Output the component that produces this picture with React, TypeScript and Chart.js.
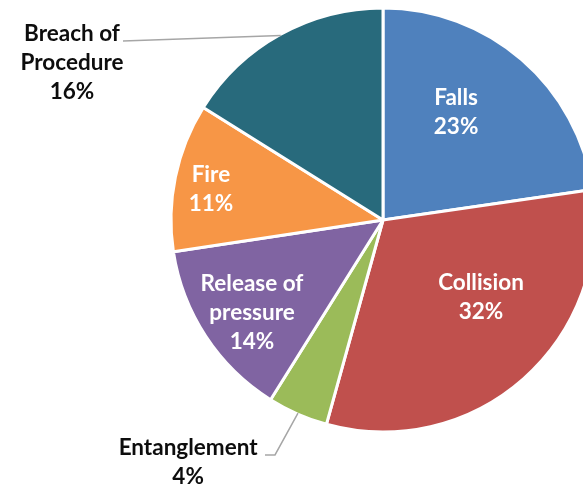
import React, { useEffect, useRef } from "react";
import { Chart, registerables } from "chart.js";

Chart.register(...registerables);

const categories = ["Falls", "Collision", "Entanglement", "Release of pressure", "Fire", "Breach of Procedure"];
const values = [22.7, 31.6, 4.6, 13.7, 11.3, 16.1];
// percentages printed on the chart
const percentLabels = ["23%", "32%", "4%", "14%", "11%", "16%"];
const labelLines = [["Falls"], ["Collision"], ["Entanglement"], ["Release of", "pressure"], ["Fire"], ["Breach of", "Procedure"]];
const colors = ["#4F81BD", "#C0504D", "#9BBB59", "#8064A2", "#F79646", "#286A7C"];

type Placement = { fx: number; fy: number; inside: boolean; leader?: [number, number][] };

const placements: Placement[] = [
  { fx: 0.343, fy: -0.507, inside: true },
  { fx: 0.46, fy: 0.362, inside: true },
  { fx: -0.915, fy: 1.136, inside: false, leader: [[-0.507, 1.103], [-0.554, 1.103]] },
  { fx: -0.615, fy: 0.437, inside: true },
  { fx: -0.808, fy: -0.146, inside: true },
  { fx: -1.46, fy: -0.737, inside: false, leader: [[-1.2207, -0.8404]] },
];

const FONT = "bold 22.5px Lato, 'Open Sans', sans-serif";
const LINE_H = 29;

const labelPlugin = {
  id: "pieLabels",
  afterDatasetsDraw(chart: any) {
    const ctx = chart.ctx as CanvasRenderingContext2D;
    const meta = chart.getDatasetMeta(0);
    meta.data.forEach((arc: any, i: number) => {
      const { x, y, outerRadius, startAngle, endAngle } = arc.getProps(
        ["x", "y", "outerRadius", "startAngle", "endAngle"],
        true
      );
      const p = placements[i];
      const R = 213;
      ctx.save();
      if (p.leader) {
        const mid = (startAngle + endAngle) / 2;
        ctx.beginPath();
        ctx.moveTo(x + Math.cos(mid) * (outerRadius - 1), y + Math.sin(mid) * (outerRadius - 1));
        p.leader.forEach(([lx, ly]) => ctx.lineTo(x + lx * R, y + ly * R));
        ctx.strokeStyle = "#A6A6A6";
        ctx.lineWidth = 1.5;
        ctx.stroke();
      }
      const lines = [...labelLines[i], percentLabels[i]];
      const cx = x + p.fx * R;
      const cy = y + p.fy * R;
      ctx.font = FONT;
      ctx.fillStyle = p.inside ? "#FFFFFF" : "#0D0D0D";
      ctx.textAlign = "center";
      ctx.textBaseline = "middle";
      lines.forEach((t, k) => {
        ctx.fillText(t, cx, cy + (k - (lines.length - 1) / 2) * LINE_H);
      });
      ctx.restore();
    });
  },
};

export default function App() {
  const ref = useRef<HTMLCanvasElement | null>(null);
  useEffect(() => {
    if (!ref.current) return;
    const chart = new Chart(ref.current, {
      type: "pie",
      data: {
        labels: categories,
        datasets: [
          {
            data: values,
            backgroundColor: colors,
            borderColor: "#FFFFFF",
            borderWidth: 3,
            radius: 212,
            hoverOffset: 0,
          } as any,
        ],
      },
      options: {
        responsive: false,
        animation: false,
        layout: { padding: { top: 7, bottom: 54, left: 0, right: 0 } },
        plugins: {
          legend: { display: false },
          tooltip: { enabled: false },
        },
      },
      plugins: [labelPlugin],
    });
    return () => chart.destroy();
  }, []);
  return (
    <div
      style={{
        position: "fixed",
        left: 0,
        top: 0,
        width: 583,
        height: 487,
        overflow: "hidden",
        background: "#FFFFFF",
      }}
    >
      <canvas ref={ref} width={766} height={487} style={{ width: 766, height: 487, display: "block" }} />
    </div>
  );
}
